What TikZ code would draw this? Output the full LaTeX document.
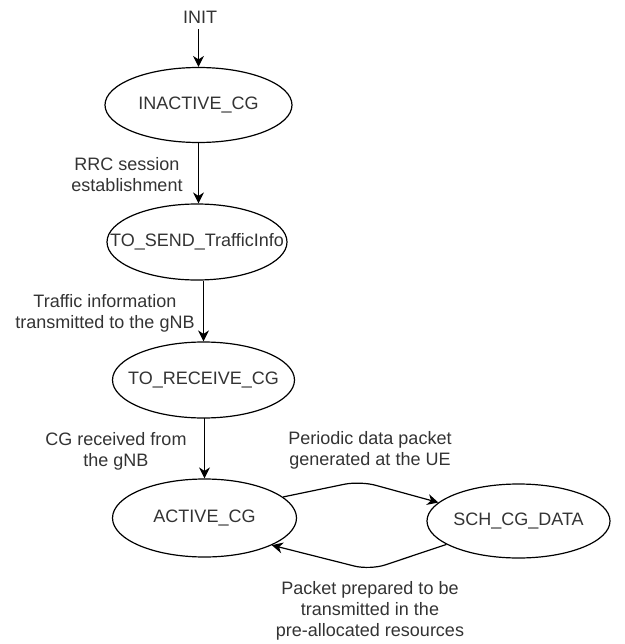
\documentclass[tikz,border=0pt]{standalone}
\usepackage{fontspec}
\setmainfont{Liberation Sans}
\usetikzlibrary{shapes.geometric,arrows.meta}
\definecolor{txt}{HTML}{333333}
\tikzset{
  state/.style={ellipse, draw=black, line width=1.2pt, inner sep=0pt,
    minimum width=184pt, minimum height=77pt, text=txt,
    font=\fontsize{18}{21}\selectfont},
  lbl/.style={align=center, text=txt, inner sep=0pt,
    font=\fontsize{18}{21}\selectfont},
  arr/.style={draw=black, line width=1.2pt,
    -{Stealth[length=11pt,width=11pt,inset=3.5pt]}}
}
\begin{document}
\begin{tikzpicture}[x=1pt,y=-1pt]
\useasboundingbox (0,0) rectangle (624,644);
\node[lbl] (init) at (200,17) {INIT};
\node[state, minimum width=187pt, minimum height=75pt] (inactive) at (198.5,105) {\makebox[0pt]{INACTIVE\_CG}};
\node[state, minimum width=180pt, minimum height=76pt] (tosend) at (197,242) {\makebox[0pt]{TO\_SEND\_TrafficInfo}};
\node[state, minimum width=182pt, minimum height=76pt] (torecv) at (203.5,380) {\makebox[0pt]{TO\_RECEIVE\_CG}};
\node[state, minimum width=184pt, minimum height=78pt] (active) at (204.5,518) {\makebox[0pt]{ACTIVE\_CG}};
\node[state, minimum width=183pt, minimum height=74pt] (sch) at (518.5,521) {\makebox[0pt]{SCH\_CG\_DATA}};

\coordinate (peak) at (360,481);
\coordinate (valley) at (370,570);

\draw[arr] (init.south -| inactive.north) ++(0,6) -- (inactive.north);
\draw[arr] (inactive.south) -- (inactive.south |- tosend.north);
\draw[arr] (tosend.south -| torecv.north) -- (torecv.north);
\draw[arr] (torecv.south) -- (torecv.south -| active.north) -- (active.north);
\draw[arr, rounded corners=16pt] (active.15) -- (peak) -- (sch.167);
\draw[arr, rounded corners=16pt] (sch.198) -- (valley) -- (active.338);

\node[lbl] (l1) at (127,175) {RRC session\\establishment};
\node[lbl] (l2) at (105,313) {Traffic information\\transmitted to the gNB};
\node[lbl] (l3) at (116,451) {CG received from\\the gNB};
\node[lbl] (l4) at (370,450) {Periodic data packet\\generated at the UE};
\node[lbl] (l5) at (370,611) {Packet prepared to be\\transmitted in the\\pre-allocated resources};
\end{tikzpicture}
\end{document}
